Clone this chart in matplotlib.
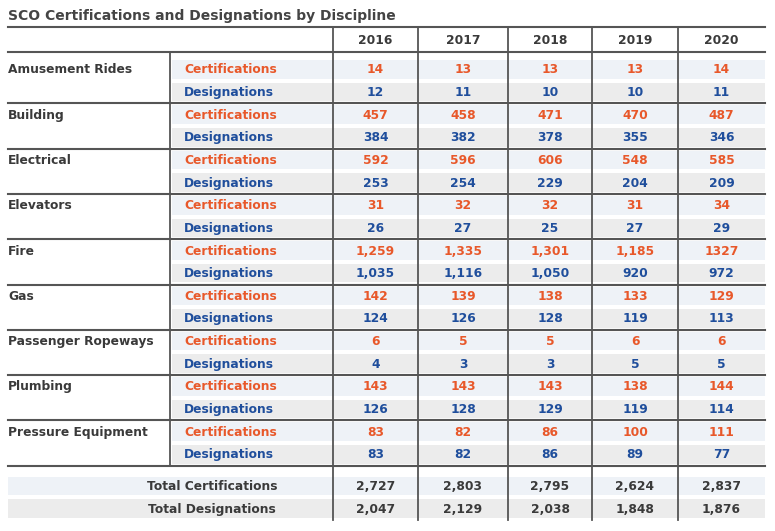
import matplotlib
matplotlib.use("Agg")
import matplotlib.pyplot as plt
from matplotlib.patches import Rectangle

years = ["2016", "2017", "2018", "2019", "2020"]
disciplines = ["Amusement Rides", "Building", "Electrical", "Elevators", "Fire", "Gas",
               "Passenger Ropeways", "Plumbing", "Pressure Equipment"]
certs = [
    ["14", "13", "13", "13", "14"],
    ["457", "458", "471", "470", "487"],
    ["592", "596", "606", "548", "585"],
    ["31", "32", "32", "31", "34"],
    ["1,259", "1,335", "1,301", "1,185", "1327"],
    ["142", "139", "138", "133", "129"],
    ["6", "5", "5", "6", "6"],
    ["143", "143", "143", "138", "144"],
    ["83", "82", "86", "100", "111"],
]
desigs = [
    ["12", "11", "10", "10", "11"],
    ["384", "382", "378", "355", "346"],
    ["253", "254", "229", "204", "209"],
    ["26", "27", "25", "27", "29"],
    ["1,035", "1,116", "1,050", "920", "972"],
    ["124", "126", "128", "119", "113"],
    ["4", "3", "3", "5", "5"],
    ["126", "128", "129", "119", "114"],
    ["83", "82", "86", "89", "77"],
]
total_certs = ["2,727", "2,803", "2,795", "2,624", "2,837"]
total_desigs = ["2,047", "2,129", "2,038", "1,848", "1,876"]

ORANGE = "#e8582a"
BLUE = "#1f4e9c"
DARK = "#3a3a3a"
CERT_BG = "#eef2f7"
DES_BG = "#ececec"
LINE = "#555555"

fig = plt.figure(figsize=(7.75, 5.31), dpi=100)
ax = fig.add_axes([0, 0, 1, 1])
ax.set_xlim(0, 775)
ax.set_ylim(531, 0)
ax.axis("off")

colx = [333, 418, 508, 592, 678, 765]
fs = 8.8
ax.text(8, 16, "SCO Certifications and Designations by Discipline", fontsize=10,
        fontweight="bold", color="#444444", va="center", ha="left")

top, hdr_bot = 27, 52
ax.plot([8, 765], [top, top], color=LINE, lw=1.5)
ax.plot([8, 765], [hdr_bot, hdr_bot], color=LINE, lw=1.5)
for i, y in enumerate(years):
    ax.text((colx[i] + colx[i + 1]) / 2, 40, y, fontsize=fs, fontweight="bold",
            color=DARK, ha="center", va="center")

g0, gh = 58, 45.3
rh = gh / 2
for g, name in enumerate(disciplines):
    gy = g0 + g * gh
    ax.text(8, gy + rh / 2 + 0.5, name, fontsize=fs, fontweight="bold", color=DARK,
            ha="left", va="center")
    for r, (lab, vals, col, bg) in enumerate([("Certifications", certs[g], ORANGE, CERT_BG),
                                              ("Designations", desigs[g], BLUE, DES_BG)]):
        ry = gy + r * rh
        ax.add_patch(Rectangle((172, ry + 2), 593, rh - 4, color=bg, lw=0, zorder=0))
        yc = ry + rh / 2 + 0.5
        ax.text(184, yc, lab, fontsize=fs, fontweight="bold", color=col, ha="left", va="center")
        for i, v in enumerate(vals):
            ax.text((colx[i] + colx[i + 1]) / 2, yc, v, fontsize=fs, fontweight="bold",
                    color=col, ha="center", va="center")
    ax.plot([8, 765], [gy + gh, gy + gh], color=LINE, lw=1.5)
bottom = g0 + len(disciplines) * gh
ax.plot([170, 170], [hdr_bot, bottom], color=LINE, lw=1.3)

t0 = bottom + 9
for r, (lab, vals, bg) in enumerate([("Total Certifications", total_certs, CERT_BG),
                                     ("Total Designations", total_desigs, DES_BG)]):
    ry = t0 + r * rh
    ax.add_patch(Rectangle((8, ry + 2), 757, rh - 4, color=bg, lw=0, zorder=0))
    yc = ry + rh / 2 + 0.5
    ax.text(212, yc, lab, fontsize=fs, fontweight="bold", color=DARK, ha="center", va="center")
    for i, v in enumerate(vals):
        ax.text((colx[i] + colx[i + 1]) / 2, yc, v, fontsize=fs, fontweight="bold",
                color=DARK, ha="center", va="center")
end = t0 + 2 * rh
for x in colx[:-1]:
    ax.plot([x, x], [top, end], color=LINE, lw=1.3)

fig.savefig("out.png", dpi=100)
